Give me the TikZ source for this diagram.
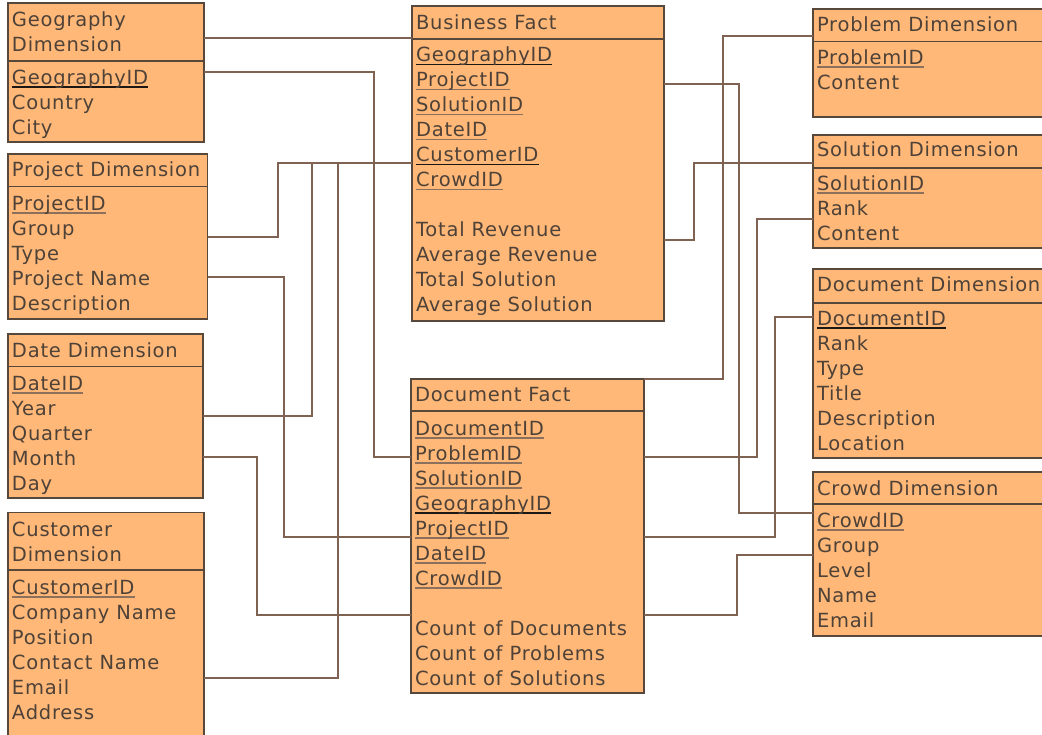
\documentclass[tikz,border=0pt]{standalone}
\usepackage{fontspec}
\newfontfamily\erfont{DejaVu Sans}[LetterSpace=4]
\definecolor{boxfill}{RGB}{255,184,120}
\definecolor{boxline}{RGB}{88,72,60}
\definecolor{txt}{RGB}{78,66,56}
\definecolor{wirec}{RGB}{128,98,82}
\definecolor{keylight}{RGB}{140,112,92}
\definecolor{keydark}{RGB}{30,24,20}
% underlined key columns
\newcommand\keyl[1]{\setbox0=\hbox{#1}\rlap{\color{keylight}\rule[-3.6pt]{\wd0}{1.5pt}}\box0}
\newcommand\keyd[1]{\setbox0=\hbox{#1}\rlap{\color{keydark}\rule[-3.6pt]{\wd0}{1.5pt}}\box0}
% rows of a table: prefix, x, first baseline, entries
\newcommand\tablerows[4]{%
  \foreach \t [count=\i] in {#4} {\node[fld] (#1\i) at ({#2},{#3+25*(\i-1)}) {\t};}}
\tikzset{
  tbl/.style={rectangle, draw=boxline, fill=boxfill, line width=1.2pt,
    inner sep=0pt, outer sep=0pt, anchor=north west},
  fld/.style={anchor=base west, inner sep=0pt, outer sep=0pt, text=txt,
    font=\erfont\fontsize{19.5}{25}\selectfont},
  divider/.style={draw=boxline, line width=1.2pt},
  wire/.style={draw=wirec, line width=1.6pt},
}
\begin{document}
\begin{tikzpicture}[x=1pt,y=-1pt]
\useasboundingbox (0,0) rectangle (1042,734);
\fill[white] (0,0) rectangle (1042,734);
\clip (0,0) rectangle (1042,734);

% tables
\node[tbl, minimum width=196pt, minimum height=139pt] (gd) at (8,3) {};
\node[tbl, minimum width=199.5pt, minimum height=165pt] (pd) at (8,154) {};
\node[tbl, minimum width=195pt, minimum height=164pt] (dd) at (8,334) {};
\node[tbl, minimum width=196pt, minimum height=250pt] (cd) at (8,512.5) {};
\node[tbl, minimum width=252pt, minimum height=315pt] (bf) at (412,6) {};
\node[tbl, minimum width=233pt, minimum height=314pt] (df) at (411,379) {};
\node[tbl, minimum width=240pt, minimum height=108pt] (pm) at (813,9) {};
\node[tbl, minimum width=240pt, minimum height=113pt] (sd) at (813,135) {};
\node[tbl, minimum width=240pt, minimum height=189pt] (dm) at (813,269) {};
\node[tbl, minimum width=240pt, minimum height=164pt] (cw) at (813,472) {};

% connectors
\draw[wire] (gd.east |- 0,38) -- (bf.west |- 0,38);
\draw[wire] (gd.east |- 0,72) -| (374,457) -- (df.west |- 0,457);
\draw[wire] (pd.east |- 0,237) -| (278,163) -- (bf.west |- 0,163);
\draw[wire] (pd.east |- 0,277) -| (284,537) -- (df.west |- 0,537);
\draw[wire] (dd.east |- 0,416) -| (312,163) -- (bf.west |- 0,163);
\draw[wire] (cd.east |- 0,678) -| (338,163) -- (bf.west |- 0,163);
\draw[wire] (dd.east |- 0,457) -| (257,615) -- (df.west |- 0,615);
\draw[wire] (bf.east |- 0,84) -| (739,513) -- (cw.west |- 0,513);
\draw[wire] (df.north east) -| (723,36) -- (pm.west |- 0,36);
\draw[wire] (bf.east |- 0,240) -| (694,163) -- (sd.west |- 0,163);
\draw[wire] (sd.west |- 0,219) -| (757,457) -- (df.east |- 0,457);
\draw[wire] (dm.west |- 0,317) -| (775,537) -- (df.east |- 0,537);
\draw[wire] (cw.west |- 0,555) -| (737,615) -- (df.east |- 0,615);

% header dividers
\draw[divider] (gd.west |- 0,61) -- (gd.east |- 0,61);
\draw[divider] (pd.west |- 0,186.5) -- (pd.east |- 0,186.5);
\draw[divider] (dd.west |- 0,366.5) -- (dd.east |- 0,366.5);
\draw[divider] (cd.west |- 0,570) -- (cd.east |- 0,570);
\draw[divider] (bf.west |- 0,39) -- (bf.east |- 0,39);
\draw[divider] (df.west |- 0,411) -- (df.east |- 0,411);
\draw[divider] (pm.west |- 0,41.5) -- (pm.east |- 0,41.5);
\draw[divider] (sd.west |- 0,168) -- (sd.east |- 0,168);
\draw[divider] (dm.west |- 0,303) -- (dm.east |- 0,303);
\draw[divider] (cw.west |- 0,504) -- (cw.east |- 0,504);

% table texts
\tablerows{gdh}{12}{26}{Geography,Dimension}
\tablerows{gdf}{12}{84.3}{\keyd{GeographyID},Country,City}

\tablerows{pdh}{12}{176.7}{Project Dimension}
\tablerows{pdf}{12}{210}{\keyl{ProjectID},Group,Type,Project Name,Description}

\tablerows{ddh}{12}{357.3}{Date Dimension}
\tablerows{ddf}{12}{390}{\keyl{DateID},Year,Quarter,Month,Day}

\tablerows{cdh}{12}{536}{Customer,Dimension}
\tablerows{cdf}{12}{594}{\keyl{CustomerID},Company Name,Position,Contact Name,Email,Address}

\tablerows{bfh}{416}{29.3}{Business Fact}
\tablerows{bff}{416}{61.7}{\keyd{GeographyID},\keyl{ProjectID},\keyl{SolutionID},\keyl{DateID},\keyd{CustomerID},\keyl{CrowdID}}
\tablerows{bfm}{416}{236.7}{Total Revenue,Average Revenue,Total Solution,Average Solution}

\tablerows{dfh}{415}{401.7}{Document Fact}
\tablerows{dff}{415}{435}{\keyl{DocumentID},\keyl{ProblemID},\keyl{SolutionID},\keyd{GeographyID},\keyl{ProjectID},\keyl{DateID},\keyl{CrowdID}}
\tablerows{dfm}{415}{635}{Count of Documents,Count of Problems,Count of Solutions}

\tablerows{pmh}{817}{31.7}{Problem Dimension}
\tablerows{pmf}{817}{64.3}{\keyl{ProblemID},Content}

\tablerows{sdh}{817}{156.7}{Solution Dimension}
\tablerows{sdf}{817}{190}{\keyl{SolutionID},Rank,Content}

\tablerows{dmh}{817}{291.7}{Document Dimension}
\tablerows{dmf}{817}{325.3}{\keyd{DocumentID},Rank,Type,Title,Description,Location}

\tablerows{cwh}{817}{495}{Crowd Dimension}
\tablerows{cwf}{817}{527.3}{\keyl{CrowdID},Group,Level,Name,Email}
\end{tikzpicture}
\end{document}
